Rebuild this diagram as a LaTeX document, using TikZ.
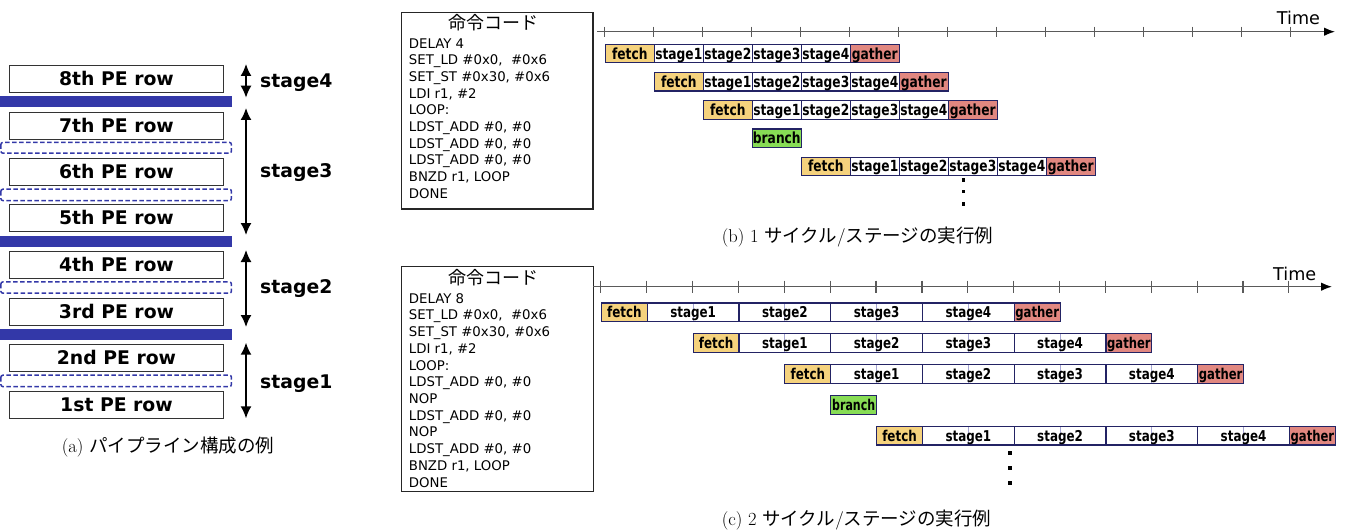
\documentclass[tikz,border=0pt]{standalone}
\usepackage{fontspec}
\usepackage{graphicx}
\usetikzlibrary{arrows.meta}
\newfontfamily\dv{DejaVu Sans}
\newfontfamily\jp{Noto Sans CJK JP}

\definecolor{rowblue}{RGB}{51,56,168}
\definecolor{cellline}{RGB}{35,35,100}
\definecolor{fetchc}{RGB}{245,210,125}
\definecolor{gatherc}{RGB}{225,135,128}
\definecolor{branchc}{RGB}{135,220,85}
\definecolor{axisc}{RGB}{90,90,90}
\definecolor{midline}{RGB}{165,165,210}

% narrow bold label used inside the pipeline cells
\newcommand\narrow[2][0.8]{\makebox[0pt]{\scalebox{#1}[1]{#2}}}

\tikzset{
  pe/.style={draw=black!80, line width=1pt, minimum width=214pt, minimum height=27pt,
    inner sep=0pt, font=\dv\bfseries\fontsize{18.8}{20}\selectfont,
    text height=13.7pt, text depth=0pt},
  stagebar/.style={fill=rowblue, draw=none},
  regbar/.style={draw=rowblue, line width=1.5pt, dash pattern=on 4.5pt off 2.5pt, rounded corners=2pt},
  span/.style={{Latex[length=12pt,width=11pt]}-{Latex[length=12pt,width=11pt]}, line width=1.6pt},
  stagelbl/.style={anchor=west, inner sep=0pt, font=\dv\bfseries\fontsize{18.8}{20}\selectfont,
    text height=13.7pt, text depth=0pt},
  codebox/.style={draw=black!85, line width=1.2pt, anchor=north west, inner sep=0pt},
  codetitle/.style={inner sep=0pt, font=\jp\fontsize{18}{18}\selectfont},
  codeline/.style={anchor=base west, inner sep=0pt, font=\dv\fontsize{13.3}{14}\selectfont},
  axis/.style={draw=axisc, line width=1.3pt, -{Latex[length=11pt,width=8.5pt,color=black]}},
  tick/.style={draw=axisc, line width=1.2pt},
  timelbl/.style={anchor=base west, inner sep=0pt, font=\dv\fontsize{17.6}{18}\selectfont},
  cell/.style={draw=cellline, line width=1.2pt, inner sep=0pt, anchor=west,
    font=\dv\bfseries\fontsize{15.3}{16}\selectfont, text height=11.1pt, text depth=0pt},
  cellc/.style={cell, font=\dv\bfseries\fontsize{14.9}{16}\selectfont, text height=10.9pt},
  halfmark/.style={path picture={\draw[midline, line width=1pt]
    (path picture bounding box.north) -- (path picture bounding box.south);}},
  caption/.style={anchor=west, inner sep=0pt, font=\fontsize{18.5}{20}\selectfont},
  dot/.style={fill=black, draw=none}
}

\begin{document}
\begin{tikzpicture}[x=1pt, y=-1pt]
\useasboundingbox (0,0) rectangle (1348,532);

% ---------------- (a) PE rows grouped into pipeline stages ----------------
\node[pe, anchor=north west] (r8) at (9,65)    {8th PE row};
\node[pe, anchor=north west] (r7) at (9,111.7) {7th PE row};
\node[pe, anchor=north west] (r6) at (9,157.7) {6th PE row};
\node[pe, anchor=north west] (r5) at (9,204)   {5th PE row};
\node[pe, anchor=north west] (r4) at (9,251)   {4th PE row};
\node[pe, anchor=north west] (r3) at (9,297.7) {3rd PE row};
\node[pe, anchor=north west] (r2) at (9,344)   {2nd PE row};
\node[pe, anchor=north west] (r1) at (9,390.7) {1st PE row};

% stage boundaries (solid) and registers inside a stage (dashed)
\fill[stagebar] (0,96)    rectangle (232,106.8);
\fill[stagebar] (0,235.8) rectangle (232,246.6);
\fill[stagebar] (0,328.8) rectangle (232,339.8);
\draw[regbar] (0.9,142.4) rectangle (231.4,153.2);
\draw[regbar] (0.9,189.2) rectangle (231.4,200.6);
\draw[regbar] (0.9,281.9) rectangle (231.4,293.2);
\draw[regbar] (0.9,375.2) rectangle (231.4,386.6);

% stage extents
\coordinate (s4t) at (246,64);    \coordinate (s4b) at (246,97.7);
\coordinate (s3t) at (246,108);   \coordinate (s3b) at (246,235);
\coordinate (s2t) at (246,250);   \coordinate (s2b) at (246,327);
\coordinate (s1t) at (246,342.7); \coordinate (s1b) at (246,418.3);
\draw[span] (s4t) -- (s4b);
\draw[span] (s3t) -- (s3b);
\draw[span] (s2t) -- (s2b);
\draw[span] (s1t) -- (s1b);
\node[stagelbl] (l4) at (260,80.5)  {stage4};
\node[stagelbl] (l3) at (260,170.5) {stage3};
\node[stagelbl] (l2) at (260,287)   {stage2};
\node[stagelbl] (l1) at (260,382)   {stage1};

\node[caption] (capa) at (61.7,447) {(a) {\jp パイプライン構成の例}};

% ---------------- (b) one cycle per stage ----------------
\node[codebox, minimum width=191.3pt, minimum height=196.6pt] (codeb) at (401,11.7) {};
\node[codetitle] (titleb) at (493,22.7) {命令コード};
\foreach \t [count=\i] in {DELAY 4, {SET\_LD \#0x0,\ \ \#0x6}, {SET\_ST \#0x30, \#0x6},
    {LDI r1, \#2}, LOOP:, {LDST\_ADD \#0, \#0}, {LDST\_ADD \#0, \#0}, {LDST\_ADD \#0, \#0},
    {BNZD r1, LOOP}, DONE}
  \node[codeline] (cb\i) at (408.7,{48.1+16.67*(\i-1)}) {\t};

\coordinate (axb0) at (597,31.7);
\coordinate (axb1) at (1335,31.7);
\draw[axis] (axb0) -- (axb1);
\foreach \k in {0,...,14}
  \draw[tick] ({604.7+49*\k},26.6) -- ({604.7+49*\k},37.2);
\node[timelbl] (timeb) at (1276.7,25) {Time};

\foreach \r/\k/\yc in {1/0/53.6, 2/1/81.8, 3/2/110.0, 5/4/166.4} {
  \node[cell, fill=fetchc, minimum width=49pt, minimum height=18.5pt]
    (b\r-f) at ({604.7+49*\k},\yc) {\narrow{fetch}};
  \foreach \s in {1,...,4}
    \node[cell, fill=white, minimum width=49pt, minimum height=18.5pt]
      (b\r-s\s) at ({604.7+49*(\k+\s)},\yc) {\narrow{stage\s}};
  \node[cell, fill=gatherc, minimum width=49pt, minimum height=18.5pt]
    (b\r-g) at ({604.7+49*(\k+5)},\yc) {\narrow{gather}};
}
\node[cell, fill=branchc, minimum width=49pt, minimum height=18.5pt]
  (b4-br) at ({604.7+49*3},138.2) {\narrow{branch}};

\fill[dot] (961.7,178.4) rectangle ++(3.3,3.3);
\fill[dot] (961.7,190.1) rectangle ++(3.3,3.3);
\fill[dot] (961.7,202.4) rectangle ++(3.3,3.3);

\node[caption] (capb) at (721.7,237) {(b) 1 {\jp サイクル}/{\jp ステージの実行例}};

% ---------------- (c) two cycles per stage ----------------
\node[codebox, minimum width=191.7pt, minimum height=225pt] (codec) at (401,266) {};
\node[codetitle] (titlec) at (493,277.7) {命令コード};
\foreach \t [count=\i] in {DELAY 8, {SET\_LD \#0x0,\ \ \#0x6}, {SET\_ST \#0x30, \#0x6},
    {LDI r1, \#2}, LOOP:, {LDST\_ADD \#0, \#0}, NOP, {LDST\_ADD \#0, \#0}, NOP,
    {LDST\_ADD \#0, \#0}, {BNZD r1, LOOP}, DONE}
  \node[codeline] (cc\i) at (408.7,{303.1+16.73*(\i-1)}) {\t};

\coordinate (axc0) at (593,286.7);
\coordinate (axc1) at (1332,286.7);
\draw[axis] (axc0) -- (axc1);
\foreach \k in {0,...,15}
  \draw[tick] ({600.8+45.87*\k},280.7) -- ({600.8+45.87*\k},293.2);
\node[timelbl] (timec) at (1273,280) {Time};

\foreach \r/\k/\yc in {1/0/312.2, 2/2/343.1, 3/4/374.0, 5/6/435.8} {
  \node[cellc, fill=fetchc, minimum width=45.87pt, minimum height=18.5pt]
    (c\r-f) at ({600.8+45.87*\k},\yc) {\narrow{fetch}};
  \foreach \s in {1,...,4}
    \node[cellc, halfmark, minimum width=91.74pt, minimum height=18.5pt]
      (c\r-s\s) at ({600.8+45.87*(\k+2*\s-1)},\yc) {\narrow{stage\s}};
  \node[cellc, fill=gatherc, minimum width=45.87pt, minimum height=18.5pt]
    (c\r-g) at ({600.8+45.87*(\k+9)},\yc) {\narrow[0.78]{gather}};
}
\node[cellc, fill=branchc, minimum width=45.87pt, minimum height=18.5pt]
  (c4-br) at ({600.8+45.87*5},404.9) {\narrow[0.74]{branch}};

\fill[dot] (1008,450.7) rectangle ++(4,4);
\fill[dot] (1008,465.7) rectangle ++(4,4);
\fill[dot] (1008,480.7) rectangle ++(4,4);

\node[caption] (capc) at (721.7,520) {(c) 2 {\jp サイクル}/{\jp ステージの実行例}};
\end{tikzpicture}
\end{document}
